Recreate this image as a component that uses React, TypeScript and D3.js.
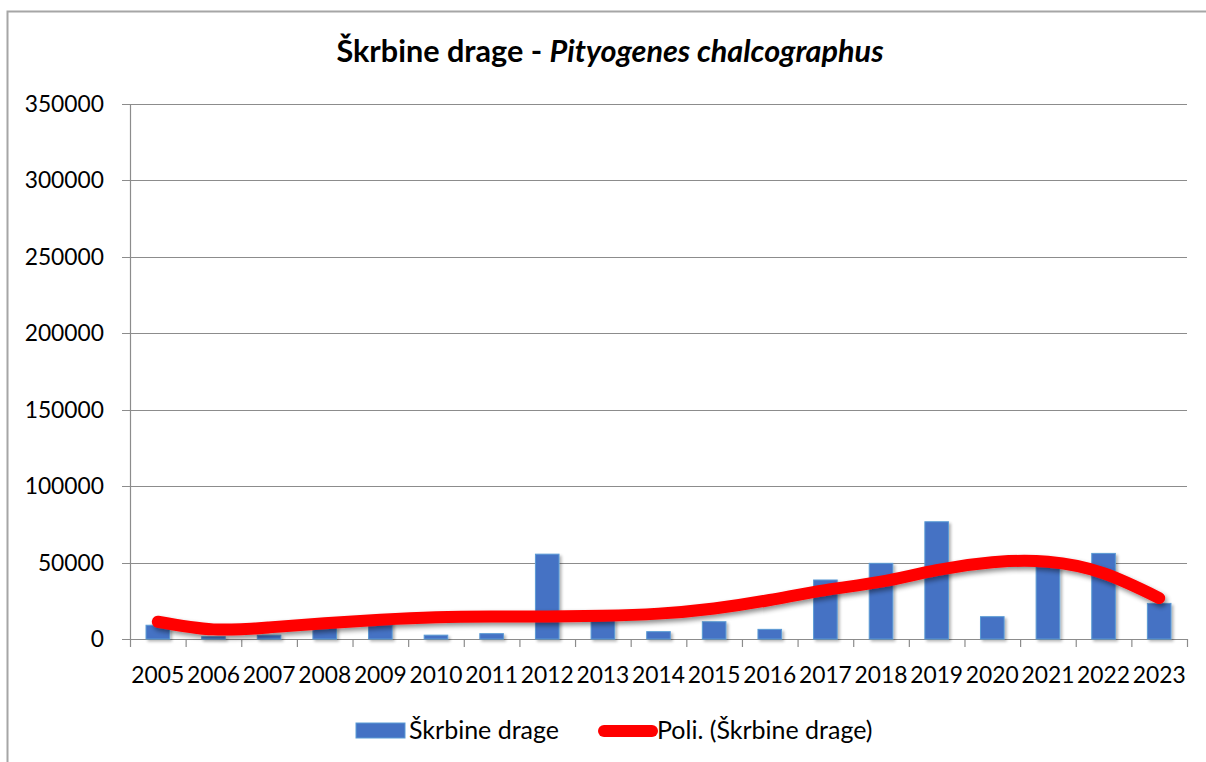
import React from "react";
import * as d3 from "d3";

const years = ["2005","2006","2007","2008","2009","2010","2011","2012","2013","2014","2015","2016","2017","2018","2019","2020","2021","2022","2023"];
const values = [9000, 1500, 2500, 7500, 11500, 2500, 3500, 55500, 12500, 4800, 11300, 6300, 38600, 49500, 76700, 14600, 51000, 56000, 23300];
const trend = [11300, 6300, 7600, 10300, 12600, 14200, 14700, 14800, 15200, 16600, 20000, 25500, 32000, 37500, 45100, 50200, 50500, 43000, 26800];
const yTicks = [0, 50000, 100000, 150000, 200000, 250000, 300000, 350000];
const title1 = "Škrbine drage - ";
const title2 = "Pityogenes chalcographus";
const seriesName = "Škrbine drage";
const trendName = "Poli. (Škrbine drage)";

const W = 1206, H = 762;
const left = 130, right = 1187, top = 104, bottom = 639;
const FONT = "Lato, 'Open Sans', sans-serif";

export default function App() {
  const x = d3.scaleBand<string>().domain(years).range([left, right]).paddingInner(0.576).paddingOuter(0.288);
  const xc = d3.scaleBand<string>().domain(years).range([left, right]);
  const y = d3.scaleLinear().domain([0, 350000]).range([bottom, top]);
  const line = d3.line<number>()
    .x((_, i) => (xc(years[i]) as number) + xc.bandwidth() / 2)
    .y((d) => y(d))
    .curve(d3.curveNatural);
  const bounds = years.map((yr) => xc(yr) as number).concat([right]);

  return (
    <svg width={W} height={H} style={{ position: "absolute", left: 0, top: 0, fontFamily: FONT }}>
      <defs>
        <filter id="sh" x="-20%" y="-50%" width="140%" height="200%">
          <feGaussianBlur in="SourceAlpha" stdDeviation="2.5" />
          <feOffset dx="2" dy="3" result="b" />
          <feComponentTransfer><feFuncA type="linear" slope="0.45" /></feComponentTransfer>
          <feMerge><feMergeNode /><feMergeNode in="SourceGraphic" /></feMerge>
        </filter>
        <filter id="shb" x="-50%" y="-10%" width="200%" height="130%">
          <feGaussianBlur in="SourceAlpha" stdDeviation="1.5" />
          <feOffset dx="2" dy="2" result="b" />
          <feComponentTransfer><feFuncA type="linear" slope="0.3" /></feComponentTransfer>
          <feMerge><feMergeNode /><feMergeNode in="SourceGraphic" /></feMerge>
        </filter>
      </defs>
      <rect x={0} y={0} width={W} height={H} fill="#fff" />
      <path d={`M7.5,${H + 5}V11.5H${W + 5}`} fill="none" stroke="#a6a6a6" strokeWidth={2} />
      <text x={610} y={62} textAnchor="middle" fontSize={30.6} fontWeight="bold" fill="#000">
        {title1}<tspan fontStyle="italic">{title2}</tspan>
      </text>
      {yTicks.map((t) => (
        <g key={t}>
          <line x1={122} x2={right} y1={Math.round(y(t)) + 0.5} y2={Math.round(y(t)) + 0.5} stroke="#8c8c8c" strokeWidth={1.2} />
          <text x={104} y={y(t) + 8} textAnchor="end" fontSize={22.8} fill="#000">{t}</text>
        </g>
      ))}
      <line x1={left + 0.5} x2={left + 0.5} y1={top} y2={bottom} stroke="#8c8c8c" strokeWidth={1.2} />
      {bounds.map((b, i) => (
        <line key={i} x1={b + 0.5} x2={b + 0.5} y1={bottom} y2={bottom + 8} stroke="#8c8c8c" strokeWidth={1.2} />
      ))}
      {years.map((yr) => (
        <text key={yr} x={(xc(yr) as number) + xc.bandwidth() / 2} y={683} textAnchor="middle" fontSize={22.8} fill="#000">{yr}</text>
      ))}
      <g filter="url(#shb)">
        {values.map((v, i) => (
          <rect key={i} x={x(years[i]) as number} y={y(v)} width={x.bandwidth()} height={bottom - y(v)}
            fill="#4472c4" stroke="#5b9bd5" strokeWidth={1} />
        ))}
      </g>
      <path d={line(trend) as string} fill="none" stroke="#ff0000" strokeWidth={12} strokeLinecap="round" filter="url(#sh)" />
      <rect x={356} y={723} width={49} height={15} fill="#4472c4" stroke="#5b9bd5" strokeWidth={1} />
      <text x={409} y={739} fontSize={25} fill="#000">{seriesName}</text>
      <line x1={604} x2={652} y1={731} y2={731} stroke="#ff0000" strokeWidth={12} strokeLinecap="round" />
      <text x={657} y={739} fontSize={25} fill="#000">{trendName}</text>
    </svg>
  );
}
